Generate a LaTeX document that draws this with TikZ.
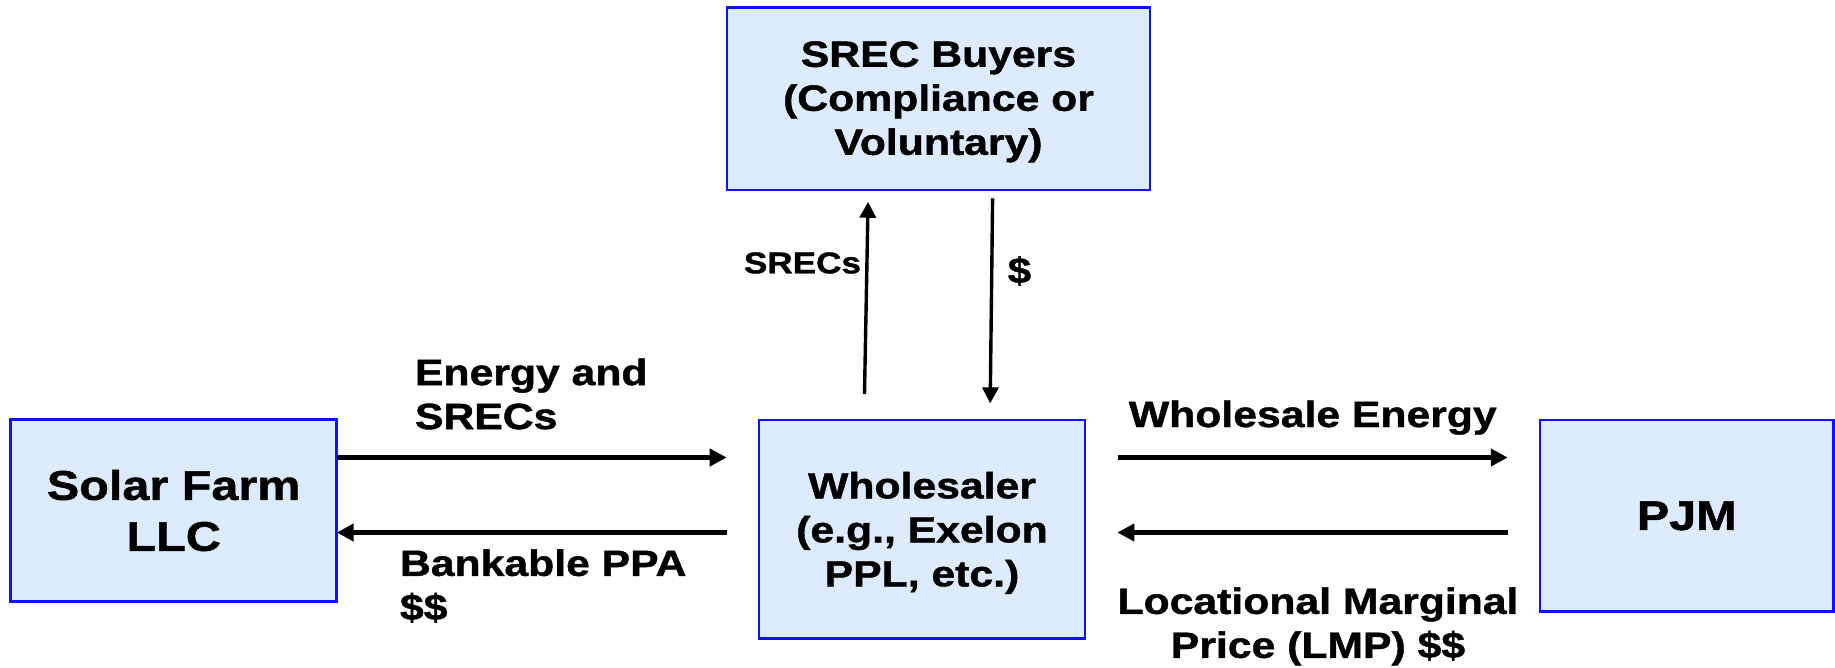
\documentclass[tikz,border=0pt]{standalone}
\usepackage{fontspec}
\setmainfont{Liberation Sans}[FakeStretch=1.17, FakeBold=1.2]
\usetikzlibrary{arrows.meta}
\definecolor{boxfill}{RGB}{221,235,255}
\definecolor{boxline}{RGB}{16,16,255}
\begin{document}
\begin{tikzpicture}[x=1pt,y=-1pt,
  box/.style={draw=boxline, line width=2.8pt, fill=boxfill, rectangle, inner sep=0pt, outer sep=0pt, align=center, font=\bfseries\fontsize{36.5}{44}\selectfont},
  bigbox/.style={box, font=\bfseries\fontsize{41.5}{51}\selectfont},
  lbl/.style={inner sep=0pt, outer sep=0pt, font=\bfseries\fontsize{36.5}{44}\selectfont},
  harr/.style={line width=4.2pt, -{Triangle[length=17pt,width=17pt]}},
  varr/.style={line width=3.4pt, -{Triangle[length=16pt,width=16pt]}}]
\useasboundingbox (0,0) rectangle (1835,667);
% boxes
\node[box, minimum width=423pt, minimum height=182.7pt] (srec) at (938.5,98.7) {\rule{0pt}{31.7pt}SREC Buyers\\(Compliance or\\Voluntary)};
\node[bigbox, minimum width=326pt, minimum height=182.4pt] (solar) at (173.7,510.5) {Solar Farm\\LLC};
\node[box, minimum width=326pt, minimum height=218.3pt] (whole) at (922,529.2) {\rule{0pt}{33.9pt}Wholesaler\\(e.g., Exelon\\PPL, etc.)};
\node[bigbox, minimum width=293.3pt, minimum height=191.7pt] (pjm) at (1686.7,515.9) {PJM};
% labels
\node[lbl, anchor=west, align=left] (l1) at (415,394) {Energy and\\SRECs};
\node[lbl, anchor=west, align=left] (l2) at (400,586) {Bankable PPA\\\$\$};
\node[lbl, anchor=base] (l3) at (1312.8,427) {Wholesale Energy};
\node[lbl, align=center] (l4) at (1318,626.4) {Locational Marginal\\Price (LMP) \$\$};
\node[lbl, anchor=base east, font=\bfseries\fontsize{30}{36}\selectfont] (l5) at (861,273.3) {SRECs};
\node[lbl, anchor=base, font=\bfseries\fontsize{36}{43}\selectfont] (l6) at (1019.5,283) {\$};
% connectors
\coordinate (ya) at (0,457.5);
\coordinate (yb) at (0,532.5);
\draw[harr, shorten >=32.3pt] (solar.east |- ya) -- (whole.west |- ya);
\draw[harr, shorten <=32.3pt] (whole.west |- yb) -- (solar.east |- yb);
\draw[harr, shorten <=33pt, shorten >=32.3pt] (whole.east |- ya) -- (pjm.west |- ya);
\draw[harr, shorten <=32pt, shorten >=32.3pt] (pjm.west |- yb) -- (whole.east |- yb);
\draw[varr, shorten <=26pt, shorten >=11.7pt] ([xshift=-58pt]whole.north) -- ([xshift=-70.2pt]srec.south);
\draw[varr, shorten <=8.3pt, shorten >=16.7pt] ([xshift=54.2pt]srec.south) -- ([xshift=68pt]whole.north);
\end{tikzpicture}
\end{document}
